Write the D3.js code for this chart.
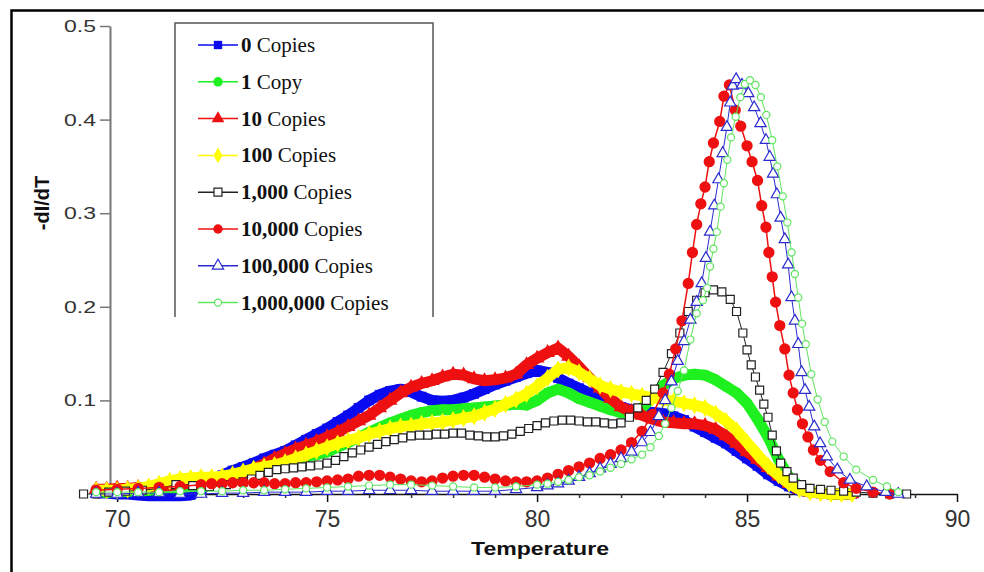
<!DOCTYPE html>
<html>
<head>
<meta charset="utf-8">
<script src="https://cdn.jsdelivr.net/npm/d3@7"></script>
<style>
  body { margin: 0; background: #fff; }
  svg { display: block; }
</style>
</head>
<body>
<div id="chart"></div>
<script>
// melt curves (-dI/dT vs temperature)

// shared temperature grid for the four broad low-copy curves
var temps = [
  69.5, 69.75, 70, 70.25, 70.5, 70.75, 71, 71.25, 71.5, 71.75,
  72, 72.25, 72.5, 72.75, 73, 73.25, 73.5, 73.75, 74, 74.25, 74.5, 74.75,
  75, 75.25, 75.5, 75.75, 76, 76.25, 76.5, 76.75, 77, 77.25, 77.5, 77.75,
  78, 78.25, 78.5, 78.75, 79, 79.25, 79.5, 79.75, 80, 80.25, 80.5, 80.75,
  81, 81.25, 81.5, 81.75, 82, 82.25, 82.5, 82.75, 83, 83.25, 83.5, 83.75,
  84, 84.25, 84.5, 84.75, 85, 85.25, 85.5, 85.75, 86, 86.25, 86.5, 86.75,
  87, 87.25, 87.5
];

var copies0 = [
  0.001, 0.001, 0.0, 0.0, -0.001, -0.002, -0.002, -0.002, -0.002, -0.001,
  0.004, 0.014, 0.02, 0.025, 0.029, 0.033, 0.038, 0.042, 0.046, 0.052, 0.058, 0.064,
  0.07, 0.077, 0.084, 0.092, 0.1, 0.106, 0.11, 0.112, 0.109, 0.104, 0.1, 0.099,
  0.1, 0.103, 0.107, 0.112, 0.117, 0.121, 0.125, 0.129, 0.132, 0.13, 0.124, 0.118,
  0.113, 0.108, 0.102, 0.097, 0.093, 0.09, 0.088, 0.087, 0.086, 0.083, 0.079, 0.072,
  0.066, 0.06, 0.054, 0.046, 0.038, 0.03, 0.021, 0.014, 0.008, 0.004, 0.002, 0.001,
  0.0, 0.0, 0.0
];

var copies1 = [
  0.002, 0.002, 0.002, 0.003, 0.003, 0.004, 0.005, 0.006, 0.007, 0.008,
  0.01, 0.012, 0.015, 0.018, 0.022, 0.026, 0.03, 0.033, 0.036, 0.038, 0.04, 0.042,
  0.045, 0.05, 0.055, 0.06, 0.066, 0.071, 0.076, 0.08, 0.084, 0.087, 0.089, 0.09,
  0.09, 0.091, 0.092, 0.093, 0.094, 0.095, 0.096, 0.095, 0.1, 0.108, 0.112, 0.108,
  0.102, 0.098, 0.094, 0.09, 0.087, 0.086, 0.092, 0.104, 0.116, 0.123, 0.127, 0.128,
  0.127, 0.122, 0.115, 0.108, 0.097, 0.08, 0.061, 0.037, 0.018, 0.008, 0.003, 0.001,
  0.0, 0.0, 0.0
];

var copies10 = [
  0.005, 0.005, 0.006, 0.006, 0.007, 0.007, 0.008, 0.009, 0.01, 0.012,
  0.013, 0.015, 0.017, 0.02, 0.023, 0.027, 0.032, 0.038, 0.043, 0.048, 0.052, 0.056,
  0.061, 0.066, 0.072, 0.078, 0.084, 0.092, 0.1, 0.108, 0.114, 0.118, 0.121, 0.125,
  0.128, 0.127, 0.123, 0.121, 0.122, 0.124, 0.128, 0.138, 0.145, 0.151, 0.156, 0.147,
  0.136, 0.124, 0.113, 0.102, 0.093, 0.088, 0.084, 0.08, 0.077, 0.076, 0.075, 0.075,
  0.073, 0.069, 0.062, 0.054, 0.045, 0.037, 0.028, 0.019, 0.011, 0.005, 0.002, 0.001,
  0.0, 0.0, 0.0
];

var copies100 = [
  0.004, 0.004, 0.004, 0.005, 0.006, 0.008, 0.011, 0.014, 0.016, 0.017,
  0.018, 0.018, 0.019, 0.021, 0.024, 0.027, 0.029, 0.031, 0.034, 0.038, 0.042, 0.046,
  0.05, 0.054, 0.057, 0.06, 0.064, 0.067, 0.07, 0.072, 0.073, 0.075, 0.076, 0.077,
  0.079, 0.081, 0.083, 0.087, 0.091, 0.096, 0.101, 0.107, 0.115, 0.124, 0.133, 0.135,
  0.13, 0.123, 0.116, 0.112, 0.109, 0.107, 0.105, 0.103, 0.101, 0.099, 0.097, 0.095,
  0.092, 0.086, 0.078, 0.068, 0.055, 0.042, 0.03, 0.02, 0.011, 0.005, 0.002, 0.001,
  0.0, 0.0, 0.0
];

// high-copy curves: [temperature, -dI/dT]
var copies1000 = [
  [69.2, 0], [69.5, 0], [69.8, 0.002], [70.2, 0.003], [70.6, 0.004], [71.0, 0.006],
  [71.4, 0.01], [71.8, 0.009], [72.2, 0.008], [72.6, 0.01], [73.0, 0.013], [73.2, 0.016],
  [73.4, 0.02], [73.6, 0.023], [73.8, 0.026], [74.0, 0.027], [74.2, 0.028], [74.4, 0.029],
  [74.6, 0.03], [74.8, 0.031], [75.0, 0.033], [75.2, 0.036], [75.4, 0.04], [75.6, 0.044],
  [75.8, 0.047], [76.0, 0.05], [76.2, 0.053], [76.4, 0.056], [76.6, 0.058], [76.8, 0.06],
  [77.0, 0.062], [77.2, 0.063], [77.4, 0.063], [77.6, 0.064], [77.8, 0.064], [78.0, 0.065],
  [78.2, 0.065], [78.4, 0.063], [78.6, 0.062], [78.8, 0.061], [79.0, 0.061], [79.2, 0.062],
  [79.4, 0.064], [79.6, 0.067], [79.8, 0.07], [80.0, 0.073], [80.2, 0.076], [80.4, 0.078],
  [80.6, 0.079], [80.8, 0.079], [81.0, 0.078], [81.2, 0.077], [81.4, 0.077], [81.6, 0.076],
  [81.8, 0.075], [82.0, 0.076], [82.2, 0.082], [82.4, 0.092], [82.6, 0.1], [82.8, 0.112],
  [83.0, 0.13], [83.2, 0.15], [83.4, 0.172], [83.6, 0.195], [83.8, 0.207], [84.0, 0.215],
  [84.2, 0.218], [84.4, 0.216], [84.6, 0.208], [84.75, 0.195], [84.9, 0.172], [85.0, 0.154],
  [85.1, 0.138], [85.2, 0.125], [85.3, 0.111], [85.4, 0.096], [85.5, 0.082], [85.6, 0.063],
  [85.7, 0.046], [85.8, 0.033], [85.95, 0.024], [86.1, 0.017], [86.3, 0.01], [86.5, 0.006],
  [86.75, 0.005], [87.0, 0.004], [87.3, 0.003], [87.6, 0.002], [88.0, 0.001], [88.4, 0], [88.8, 0]
];

var copies10000 = [
  [69.5, 0.004], [70, 0.005], [70.5, 0.006], [71, 0.007], [71.5, 0.008], [72, 0.01],
  [72.25, 0.011], [72.5, 0.011], [72.75, 0.012], [73, 0.012], [73.25, 0.012], [73.5, 0.012],
  [73.75, 0.011], [74, 0.011], [74.25, 0.012], [74.5, 0.012], [74.75, 0.013], [75, 0.014],
  [75.25, 0.015], [75.5, 0.016], [75.75, 0.019], [76, 0.02], [76.25, 0.02], [76.5, 0.018],
  [76.75, 0.016], [77, 0.014], [77.25, 0.013], [77.5, 0.014], [77.75, 0.017], [78, 0.019],
  [78.25, 0.02], [78.5, 0.02], [78.75, 0.018], [79, 0.016], [79.25, 0.014], [79.5, 0.013],
  [79.75, 0.013], [80, 0.014], [80.25, 0.017], [80.5, 0.021], [80.75, 0.025], [81, 0.029],
  [81.25, 0.033], [81.5, 0.038], [81.75, 0.042], [82, 0.047], [82.25, 0.055], [82.5, 0.067],
  [82.75, 0.085], [83, 0.108], [83.15, 0.128], [83.3, 0.155], [83.45, 0.185], [83.6, 0.225],
  [83.7, 0.258], [83.8, 0.288], [83.9, 0.31], [84.0, 0.328], [84.1, 0.355], [84.2, 0.375],
  [84.35, 0.398], [84.45, 0.425], [84.58, 0.437], [84.72, 0.41], [84.85, 0.393], [85.0, 0.372],
  [85.12, 0.355], [85.25, 0.335], [85.35, 0.308], [85.45, 0.285], [85.52, 0.258], [85.6, 0.232],
  [85.68, 0.205], [85.78, 0.18], [85.9, 0.155], [86.0, 0.127], [86.1, 0.108], [86.2, 0.09],
  [86.32, 0.075], [86.45, 0.061], [86.58, 0.047], [86.75, 0.036], [86.98, 0.024], [87.3, 0.012],
  [87.6, 0.006], [88.0, 0.002], [88.4, 0]
];

var copies100000 = [
  [69.5, 0.0], [70, 0.0], [70.5, 0.001], [71, 0.001], [71.5, 0.0], [72, 0.0], [72.5, 0.001],
  [73, 0.001], [73.5, 0.002], [74, 0.002], [74.5, 0.002], [75, 0.003], [75.5, 0.003], [76, 0.004],
  [76.5, 0.004], [77, 0.004], [77.5, 0.003], [78, 0.003], [78.5, 0.003], [79, 0.003], [79.5, 0.005],
  [80, 0.007], [80.25, 0.009], [80.5, 0.011], [80.75, 0.014], [81, 0.018], [81.25, 0.022],
  [81.5, 0.027], [81.75, 0.032], [82, 0.038], [82.25, 0.045], [82.5, 0.055], [82.7, 0.066],
  [82.9, 0.083], [83.05, 0.1], [83.2, 0.12], [83.35, 0.142], [83.5, 0.163], [83.65, 0.186],
  [83.8, 0.205], [83.92, 0.225], [84.02, 0.252], [84.12, 0.28], [84.22, 0.308], [84.32, 0.336],
  [84.42, 0.364], [84.52, 0.392], [84.6, 0.418], [84.66, 0.436], [84.74, 0.443], [84.88, 0.437],
  [85.03, 0.428], [85.17, 0.413], [85.32, 0.396], [85.45, 0.378], [85.54, 0.36], [85.62, 0.342],
  [85.71, 0.32], [85.8, 0.295], [85.9, 0.272], [85.98, 0.245], [86.06, 0.21], [86.14, 0.185],
  [86.22, 0.16], [86.3, 0.13], [86.38, 0.111], [86.48, 0.093], [86.6, 0.072], [86.74, 0.054],
  [86.9, 0.04], [87.15, 0.026], [87.45, 0.015], [87.85, 0.008], [88.3, 0.002], [88.6, 0]
];

var copies1000000 = [
  [69.5, 0.002], [70, 0.002], [70.5, 0.002], [71, 0.002], [71.5, 0.003], [72, 0.003], [72.5, 0.003],
  [73, 0.004], [73.5, 0.004], [74, 0.005], [74.5, 0.006], [75, 0.007], [75.5, 0.008], [76, 0.009],
  [76.5, 0.01], [77, 0.01], [77.5, 0.009], [78, 0.008], [78.5, 0.007], [79, 0.007], [79.5, 0.008],
  [80, 0.01], [80.25, 0.011], [80.5, 0.013], [80.75, 0.015], [81, 0.018], [81.25, 0.02],
  [81.5, 0.024], [81.75, 0.028], [82, 0.032], [82.25, 0.037], [82.5, 0.042], [82.7, 0.05],
  [82.9, 0.062], [83.05, 0.075], [83.2, 0.092], [83.35, 0.11], [83.5, 0.132], [83.65, 0.165],
  [83.8, 0.193], [83.95, 0.207], [84.05, 0.22], [84.12, 0.243], [84.2, 0.262], [84.28, 0.28],
  [84.37, 0.307], [84.45, 0.332], [84.53, 0.357], [84.62, 0.381], [84.73, 0.403], [84.84, 0.424],
  [84.95, 0.438], [85.07, 0.442], [85.2, 0.437], [85.33, 0.424], [85.46, 0.405], [85.6, 0.378],
  [85.72, 0.35], [85.85, 0.318], [85.96, 0.29], [86.06, 0.258], [86.14, 0.235], [86.22, 0.21],
  [86.31, 0.182], [86.4, 0.16], [86.53, 0.128], [86.68, 0.101], [86.85, 0.077], [87.03, 0.056],
  [87.3, 0.04], [87.6, 0.026], [88.0, 0.015], [88.33, 0.008], [88.6, 0.002]
];

var legendNums = ["0", "1", "10", "100", "1,000", "10,000", "100,000", "1,000,000"];
var legendSuffix = [" Copies", " Copy", " Copies", " Copies", " Copies", " Copies", " Copies", " Copies"];
var xTicks = [70, 75, 80, 85, 90];
var xMinorTicks = [71, 72, 73, 74, 76, 77, 78, 79, 81, 82, 83, 84, 86, 87, 88, 89];
var yTicks = [0.1, 0.2, 0.3, 0.4, 0.5];

function onGrid(vals) {
    return temps.map(function(t, i) { return [t, vals[i]]; });
}

var series = [
    {data: onGrid(copies0), color: "#0a0af0", symbol: d3.symbolSquare, size: 95, fill: "#0a0af0", lw: 11},
    {data: onGrid(copies1), color: "#1ff01f", symbol: d3.symbolCircle, size: 95, fill: "#1ff01f", lw: 11},
    {data: onGrid(copies10), color: "#ee1010", symbol: d3.symbolTriangle, size: 95, fill: "#ee1010", lw: 11},
    {data: onGrid(copies100), color: "#ffff00", symbol: d3.symbolDiamond, size: 95, fill: "#ffff00", lw: 11},
    {data: copies1000, color: "#222222", symbol: d3.symbolSquare, size: 64, fill: "#ffffff", lw: 1},
    {data: copies10000, color: "#ee1010", symbol: d3.symbolCircle, size: 100, fill: "#ee1010", lw: 1.5},
    {data: copies100000, color: "#2a2ad0", symbol: d3.symbolTriangle, size: 55, fill: "#ffffff", lw: 1},
    {data: copies1000000, color: "#5ee65e", symbol: d3.symbolCircle, size: 40, fill: "#ffffff", lw: 1}
];

var width = 984, height = 572;

var svg = d3.select("#chart")
    .append("svg")
    .attr("width", width)
    .attr("height", height);

svg.append("rect").attr("width", width).attr("height", height).attr("fill", "#fff");

// frame (top + left edge only)
svg.append("path")
    .attr("d", "M11.5,572V10.5H984")
    .attr("fill", "none")
    .attr("stroke", "#000")
    .attr("stroke-width", 2.5);

var x = d3.scaleLinear().domain([69.83, 90]).range([110, 957]);
var y = d3.scaleLinear().domain([0, 0.5]).range([494, 26]);

// y axis
var yAxis = svg.append("g")
    .attr("transform", "translate(110,0)")
    .call(d3.axisLeft(y).tickValues(yTicks).tickSize(10).tickSizeOuter(0).tickPadding(4)
        .tickFormat(d3.format(".1f")));
yAxis.select(".domain").attr("stroke", "#777").attr("stroke-width", 2);
yAxis.selectAll(".tick line").attr("stroke", "#777").attr("stroke-width", 1.5);
yAxis.selectAll(".tick text")
    .attr("font-family", "Liberation Sans, Arial, sans-serif")
    .attr("font-size", 17)
    .attr("fill", "#333")
    .attr("textLength", 32)
    .attr("lengthAdjust", "spacingAndGlyphs");

// x axis
var xAxis = svg.append("g")
    .attr("transform", "translate(0,494)")
    .call(d3.axisBottom(x).tickValues(xTicks).tickSize(8).tickSizeOuter(0).tickPadding(9)
        .tickFormat(d3.format("d")));
xAxis.select(".domain").attr("stroke", "#111").attr("stroke-width", 1.5);
xAxis.selectAll(".tick line").attr("stroke", "#111").attr("stroke-width", 1.5);
xAxis.selectAll(".tick text")
    .attr("font-family", "Liberation Sans, Arial, sans-serif")
    .attr("font-size", 23)
    .attr("fill", "#333");

var xMinor = svg.append("g")
    .attr("transform", "translate(0,494)")
    .call(d3.axisBottom(x).tickValues(xMinorTicks).tickSize(4).tickFormat(""));
xMinor.select(".domain").remove();
xMinor.selectAll(".tick line").attr("stroke", "#333").attr("stroke-width", 1.5);

// axis titles
svg.append("text")
    .attr("x", 540)
    .attr("y", 555)
    .attr("text-anchor", "middle")
    .attr("font-family", "Liberation Sans, Arial, sans-serif")
    .attr("font-weight", "bold")
    .attr("font-size", 19)
    .attr("fill", "#111")
    .attr("textLength", 138)
    .attr("lengthAdjust", "spacingAndGlyphs")
    .text("Temperature");

svg.append("text")
    .attr("transform", "translate(49,203) rotate(-90)")
    .attr("text-anchor", "middle")
    .attr("font-family", "Liberation Sans, Arial, sans-serif")
    .attr("font-weight", "bold")
    .attr("font-size", 20)
    .attr("fill", "#111")
    .text("-dI/dT");

// curves
var line = d3.line()
    .x(function(d) { return x(d[0]); })
    .y(function(d) { return y(d[1]); });

series.forEach(function(s) {
    var g = svg.append("g");
    g.append("path")
        .datum(s.data)
        .attr("d", line)
        .attr("fill", "none")
        .attr("stroke", s.color)
        .attr("stroke-width", s.lw)
        .attr("stroke-linejoin", "round")
        .attr("stroke-linecap", "round");
    g.selectAll("path.mk")
        .data(s.data)
        .enter()
        .append("path")
        .attr("class", "mk")
        .attr("d", d3.symbol().type(s.symbol).size(s.size))
        .attr("transform", function(d) { return "translate(" + x(d[0]) + "," + y(d[1]) + ")"; })
        .attr("fill", s.fill)
        .attr("stroke", s.fill === "#ffffff" ? s.color : "none")
        .attr("stroke-width", 1.2);
});

// legend
var legend = svg.append("g");
legend.append("path")
    .attr("d", "M175,317V23H433V317")
    .attr("fill", "none")
    .attr("stroke", "#555")
    .attr("stroke-width", 1.5);

var item = legend.selectAll("g.item")
    .data(series)
    .enter()
    .append("g")
    .attr("class", "item")
    .attr("transform", function(d, i) { return "translate(0," + (45 + i * 36.8) + ")"; });

item.append("line")
    .attr("x1", 198).attr("x2", 238)
    .attr("stroke", function(d) { return d.color; })
    .attr("stroke-width", 1.5);

item.append("path")
    .attr("d", function(d) { return d3.symbol().type(d.symbol).size(Math.min(d.size, 70))(); })
    .attr("transform", "translate(218,0)")
    .attr("fill", function(d) { return d.fill; })
    .attr("stroke", function(d) { return d.fill === "#ffffff" ? d.color : "none"; })
    .attr("stroke-width", 1.2);

var label = item.append("text")
    .attr("x", 241)
    .attr("y", 7)
    .attr("font-family", "Liberation Serif, Times New Roman, serif")
    .attr("font-size", 21)
    .attr("fill", "#111");
label.append("tspan")
    .attr("font-weight", "bold")
    .text(function(d, i) { return legendNums[i]; });
label.append("tspan")
    .text(function(d, i) { return legendSuffix[i]; });
</script>
</body>
</html>
